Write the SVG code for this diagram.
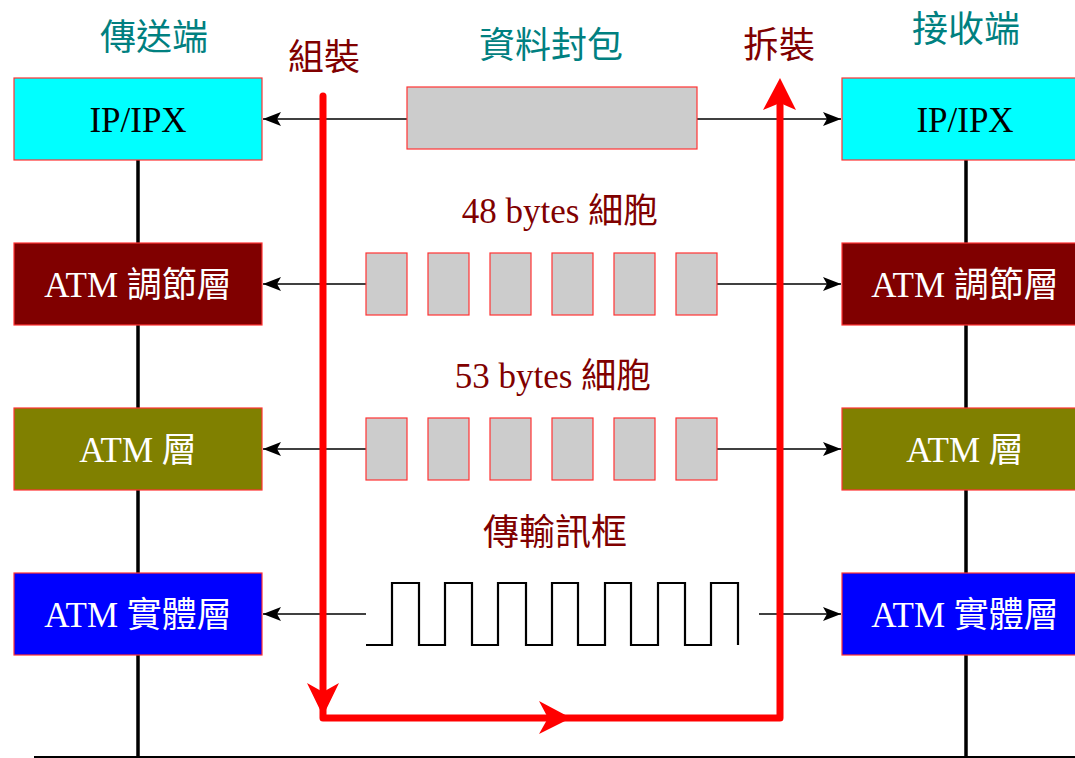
<svg xmlns="http://www.w3.org/2000/svg" width="1075" height="758" viewBox="0 0 1075 758">
<style>
.box{stroke:#ff3333;stroke-width:1.2}
.cell{fill:#cccccc;stroke:#ff3333;stroke-width:1.2}
.bt{font-family:"Liberation Serif","Noto Sans CJK TC",serif;font-size:35px;text-anchor:middle}
.hd{font-family:"Liberation Serif","Noto Sans CJK TC",sans-serif;font-size:36px;text-anchor:middle}
.teal{fill:#008080}
.dred{fill:#800000}
.conn{stroke:#000;stroke-width:1.3;fill:none}
.red{stroke:#ff0000;stroke-width:7;fill:none;stroke-linejoin:round;stroke-linecap:round}
</style>
<defs>
<marker id="ah" viewBox="0 0 18 14" refX="18" refY="7" markerWidth="18" markerHeight="14" markerUnits="userSpaceOnUse" orient="auto">
<path d="M0,0 L18,7 L0,14 L4,7 Z" fill="#000"/>
</marker>
</defs>
<rect width="1075" height="758" fill="#fff"/>
<g id="axes">
<line x1="138" y1="160" x2="138" y2="757" stroke="#000" stroke-width="3.5"/>
<line x1="966" y1="160" x2="966" y2="757" stroke="#000" stroke-width="3.5"/>
<line x1="34" y1="757" x2="1075" y2="757" stroke="#000" stroke-width="2"/>
</g>
<g id="headings">
<text class="hd teal" x="154" y="50">傳送端</text>
<text class="hd dred" x="324" y="70">組裝</text>
<text class="hd teal" x="551" y="58">資料封包</text>
<text class="hd dred" x="779" y="58">拆裝</text>
<text class="hd teal" x="966" y="42">接收端</text>
<text class="hd dred" x="560" y="223" style="font-size:35px">48 bytes 細胞</text>
<text class="hd dred" x="553" y="388" style="font-size:35px">53 bytes 細胞</text>
<text class="hd dred" x="555" y="545">傳輸訊框</text>
</g>
<g id="send-ip"><rect class="box" x="14" y="78" width="248" height="82" fill="#00ffff"/><text class="bt" x="138" y="132" fill="#000">IP/IPX</text></g>
<g id="send-aal"><rect class="box" x="14" y="243" width="248" height="82" fill="#800000"/><text class="bt" x="138" y="297" fill="#fff">ATM 調節層</text></g>
<g id="send-atm"><rect class="box" x="14" y="408" width="248" height="82" fill="#808000"/><text class="bt" x="138" y="462" fill="#fff">ATM 層</text></g>
<g id="send-phy"><rect class="box" x="14" y="573" width="248" height="82" fill="#0000ff"/><text class="bt" x="138" y="627" fill="#fff">ATM 實體層</text></g>
<g id="recv-ip"><rect class="box" x="842" y="78" width="250" height="82" fill="#00ffff"/><text class="bt" x="965" y="132" fill="#000">IP/IPX</text></g>
<g id="recv-aal"><rect class="box" x="842" y="243" width="250" height="82" fill="#800000"/><text class="bt" x="965" y="297" fill="#fff">ATM 調節層</text></g>
<g id="recv-atm"><rect class="box" x="842" y="408" width="250" height="82" fill="#808000"/><text class="bt" x="965" y="462" fill="#fff">ATM 層</text></g>
<g id="recv-phy"><rect class="box" x="842" y="573" width="250" height="82" fill="#0000ff"/><text class="bt" x="965" y="627" fill="#fff">ATM 實體層</text></g>
<g id="connectors">
<line class="conn" x1="407" y1="119" x2="263" y2="119" marker-end="url(#ah)"/>
<line class="conn" x1="697" y1="119" x2="841" y2="119" marker-end="url(#ah)"/>
<line class="conn" x1="366" y1="284" x2="263" y2="284" marker-end="url(#ah)"/>
<line class="conn" x1="717" y1="284" x2="841" y2="284" marker-end="url(#ah)"/>
<line class="conn" x1="366" y1="449" x2="263" y2="449" marker-end="url(#ah)"/>
<line class="conn" x1="717" y1="449" x2="841" y2="449" marker-end="url(#ah)"/>
<line class="conn" x1="366" y1="614" x2="263" y2="614" marker-end="url(#ah)"/>
<line class="conn" x1="759" y1="614" x2="841" y2="614" marker-end="url(#ah)"/>
</g>
<g id="packet"><rect class="cell" x="407" y="87" width="290" height="62"/></g>
<g id="cells48">
<rect class="cell" x="366" y="253" width="41" height="62"/>
<rect class="cell" x="428" y="253" width="41" height="62"/>
<rect class="cell" x="490" y="253" width="41" height="62"/>
<rect class="cell" x="552" y="253" width="41" height="62"/>
<rect class="cell" x="614" y="253" width="41" height="62"/>
<rect class="cell" x="676" y="253" width="41" height="62"/>
</g>
<g id="cells53">
<rect class="cell" x="366" y="418" width="41" height="62"/>
<rect class="cell" x="428" y="418" width="41" height="62"/>
<rect class="cell" x="490" y="418" width="41" height="62"/>
<rect class="cell" x="552" y="418" width="41" height="62"/>
<rect class="cell" x="614" y="418" width="41" height="62"/>
<rect class="cell" x="676" y="418" width="41" height="62"/>
</g>
<g id="frame">
<path d="M366,645 H392 V583 H419 V645 H445 V583 H472 V645 H498 V583 H526 V645 H552 V583 H578 V645 H605 V583 H631 V645 H658 V583 H685 V645 H711 V583 H738 V645" fill="none" stroke="#000" stroke-width="2.2"/>
</g>
<g id="flow">
<path class="red" d="M323,96 V718 H780 V105"/>
<path d="M323,716 L307,683 L323,692 L339,683 Z" fill="#ff0000"/>
<path d="M571,718 L539,701 L548,718 L539,734 Z" fill="#ff0000"/>
<path d="M780,78 L763,110 L780,103 L796,110 Z" fill="#ff0000"/>
</g>
</svg>
